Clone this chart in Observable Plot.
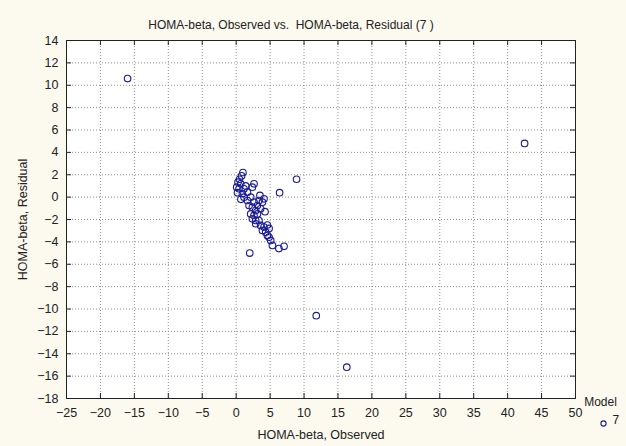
<!DOCTYPE html>
<html><head><meta charset="utf-8">
<script src="https://cdn.jsdelivr.net/npm/d3@7"></script>
<script src="https://cdn.jsdelivr.net/npm/@observablehq/plot@0.6"></script>
<style>
html,body{margin:0;padding:0;background:#fcf9ef;}
#chart{position:relative;width:626px;height:446px;}
svg{font-family:"Liberation Sans",Arial,sans-serif;}
</style></head><body><div id="chart"></div>
<script>
const observed = [-16, 42.5, 11.8, 16.3, 8.9, 6.4, 2.0, 6.3, 7.05, 4.25,
  1.0, 0.8, 0.27, 0.08, 0.42, 0.67, 1.16, 2.63, 2.39, 1.66, 0.92, 1.16, 1.66, 2.14, 3.5, 4.1,
  2.63, 3.37, 1.9, 2.39, 3.13, 3.87, 2.88, 3.6, 2.14, 2.63, 3.13, 2.39, 2.88, 3.37, 2.88, 3.6,
  4.1, 3.87, 4.35, 4.6, 4.84, 5.09, 5.34, 4.85, 4.6, 0.5, 1.4, 0.2, 0.7];
const residual = [10.6, 4.8, -10.6, -15.2, 1.6, 0.4, -5.0, -4.6, -4.4, -1.3,
  2.2, 1.9, 1.34, 0.89, 0.75, 1.19, 0.75, 1.19, 0.89, 0.44, 0.3, 0.0, -0.3, 0.0, 0.15, -0.15,
  -0.45, -0.3, -0.75, -0.9, -0.75, -0.45, -1.2, -1.05, -1.5, -1.64, -1.5, -1.94, -2.09, -2.09, -2.38, -2.53,
  -2.68, -2.98, -3.13, -3.43, -3.58, -3.87, -4.32, -2.8, -2.5, 1.6, 1.0, 0.4, -0.2];
const xTicks = [-25, -20, -15, -10, -5, 0, 5, 10, 15, 20, 25, 30, 35, 40, 45, 50];
const yTicks = [-18, -16, -14, -12, -10, -8, -6, -4, -2, 0, 2, 4, 6, 8, 10, 12, 14];
const title = "HOMA-beta, Observed vs.  HOMA-beta, Residual (7 )";
const xLabel = "HOMA-beta, Observed";
const yLabel = "HOMA-beta, Residual";
const legendTitle = "Model";
const legendItems = ["7"];

const data = observed.map((x, i) => ({x, y: residual[i]}));
const W = 626, H = 446, mL = 66, mR = 51, mT = 40, mB = 48;
const iW = W - mL - mR, iH = H - mT - mB;
const blue = "#1a1a96";
const grid = {stroke: "#8f8f8f", strokeOpacity: 1, strokeDasharray: "1,2"};

const plot = Plot.plot({
  width: W, height: H, marginLeft: mL, marginRight: mR, marginTop: mT, marginBottom: mB,
  style: {background: "transparent", fontFamily: "'Liberation Sans', Arial, sans-serif", fontSize: "12px", color: "#222", overflow: "visible"},
  x: {domain: [-25, 50]},
  y: {domain: [-18, 14]},
  marks: [
    Plot.frame({fill: "white", stroke: "none"}),
    Plot.gridX(xTicks, grid),
    Plot.gridY(yTicks, grid),
    Plot.tickX(xTicks, {x: d => d, insetTop: iH - 5, stroke: "#222"}),
    Plot.tickX(xTicks, {x: d => d, insetBottom: iH - 5, stroke: "#222"}),
    Plot.tickY(yTicks, {y: d => d, insetRight: iW - 5, stroke: "#222"}),
    Plot.tickY(yTicks, {y: d => d, insetLeft: iW - 5, stroke: "#222"}),
    Plot.frame({stroke: "#222"}),
    Plot.axisX(xTicks, {anchor: "bottom", tickSize: 0, tickPadding: 10, fontSize: 12.5, fill: "#222",
      label: xLabel, labelAnchor: "center", labelArrow: "none", labelOffset: 40}),
    Plot.axisY(yTicks, {anchor: "left", tickSize: 0, tickPadding: 8, fontSize: 12.5, fill: "#222",
      label: yLabel, labelAnchor: "center", labelArrow: "none", labelOffset: 48}),
    Plot.dot(data, {x: "x", y: "y", r: 3.3, stroke: blue, strokeWidth: 1.1, fill: "none"}),
    Plot.text([title], {frameAnchor: "top", dy: -20, dx: -30, fontSize: 12, fill: "#222"}),
    Plot.text([legendTitle], {frameAnchor: "bottom-right", textAnchor: "middle", dx: 25, dy: 7, fontSize: 12, fill: "#222"}),
    Plot.dot(legendItems, {frameAnchor: "bottom-right", dx: 28, dy: 25, r: 2.6, stroke: blue, strokeWidth: 1.1, fill: "none"}),
    Plot.text(legendItems, {frameAnchor: "bottom-right", textAnchor: "start", dx: 37, dy: 25, fontSize: 12, fill: "#222"})
  ]
});
document.getElementById("chart").append(plot);
</script></body></html>
